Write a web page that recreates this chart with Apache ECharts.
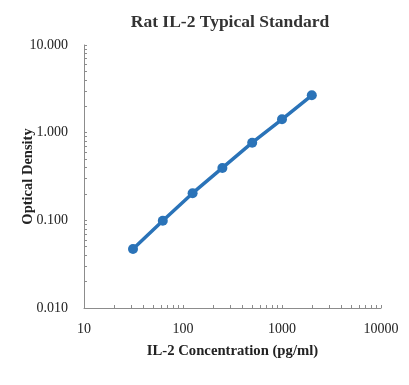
<!DOCTYPE html>
<html><head><meta charset="utf-8">
<script src="https://cdn.jsdelivr.net/npm/echarts@6/dist/echarts.min.js"></script>
<style>html,body{margin:0;padding:0;background:#fff}#c{width:409px;height:385px}</style>
</head><body><div id="c"></div>
<script>
var concentrations = [31.25, 62.5, 125, 250, 500, 1000, 2000];
var opticalDensity = [0.047, 0.099, 0.204, 0.396, 0.769, 1.42, 2.67];
var xTickLabels = [10, 100, 1000, 10000];
var yTickLabels = [0.01, 0.1, 1, 10];
var chartTitle = 'Rat IL-2 Typical Standard';
var xName = 'IL-2 Concentration (pg/ml)';
var yName = 'Optical Density';

function logTicks(decades) {
  var out = [];
  decades.forEach(function (d, i) {
    if (i === decades.length - 1) { out.push(d); return; }
    for (var k = 1; k <= 9; k++) out.push(+(d * k).toPrecision(6));
  });
  return out;
}
var xTicks = logTicks(xTickLabels);
var yTicks = logTicks(yTickLabels);

var serif = '"Liberation Serif", "DejaVu Serif", serif';
var chart = echarts.init(document.getElementById('c'));
chart.setOption({
  animation: false,
  backgroundColor: '#fff',
  title: {text: chartTitle, left: 225, top: 8, textAlign: 'center',
    textStyle: {fontFamily: serif, fontWeight: 'bold', fontSize: 17.5, color: '#333'}},
  grid: {left: 84, right: 28, top: 45, bottom: 77, containLabel: false, outerBoundsMode: 'none'},
  xAxis: {type: 'log', logBase: 10, min: 10, max: 10000,
    name: xName, nameLocation: 'middle', nameGap: 36, nameMoveOverlap: false,
    nameTextStyle: {fontFamily: serif, fontWeight: 'bold', fontSize: 14.7, color: '#222'},
    axisLine: {lineStyle: {color: '#8c8c8c', width: 1}},
    axisTick: {show: true, inside: true, length: 3, customValues: xTicks, lineStyle: {color: '#8c8c8c'}},
    axisLabel: {fontFamily: serif, fontSize: 14, color: '#222', margin: 14, customValues: xTickLabels,
      formatter: function (v) { return String(Math.round(v)); }},
    splitLine: {show: false}},
  yAxis: {type: 'log', logBase: 10, min: 0.01, max: 10,
    name: yName, nameLocation: 'middle', nameGap: 48, nameRotate: 90, nameMoveOverlap: false,
    nameTextStyle: {fontFamily: serif, fontWeight: 'bold', fontSize: 14.5, color: '#222'},
    axisLine: {show: true, lineStyle: {color: '#8c8c8c', width: 1}},
    axisTick: {show: true, inside: true, length: 3, customValues: yTicks, lineStyle: {color: '#8c8c8c'}},
    axisLabel: {fontFamily: serif, fontSize: 14, color: '#222', margin: 16, customValues: yTickLabels,
      formatter: function (v) { return Number(v).toFixed(3); }},
    splitLine: {show: false}},
  series: [{type: 'line', data: concentrations.map(function (c, i) { return [c, opticalDensity[i]]; }),
    symbol: 'circle', symbolSize: 10,
    lineStyle: {color: '#2a73b8', width: 3.5},
    itemStyle: {color: '#2a73b8'}}]
});
</script></body></html>
